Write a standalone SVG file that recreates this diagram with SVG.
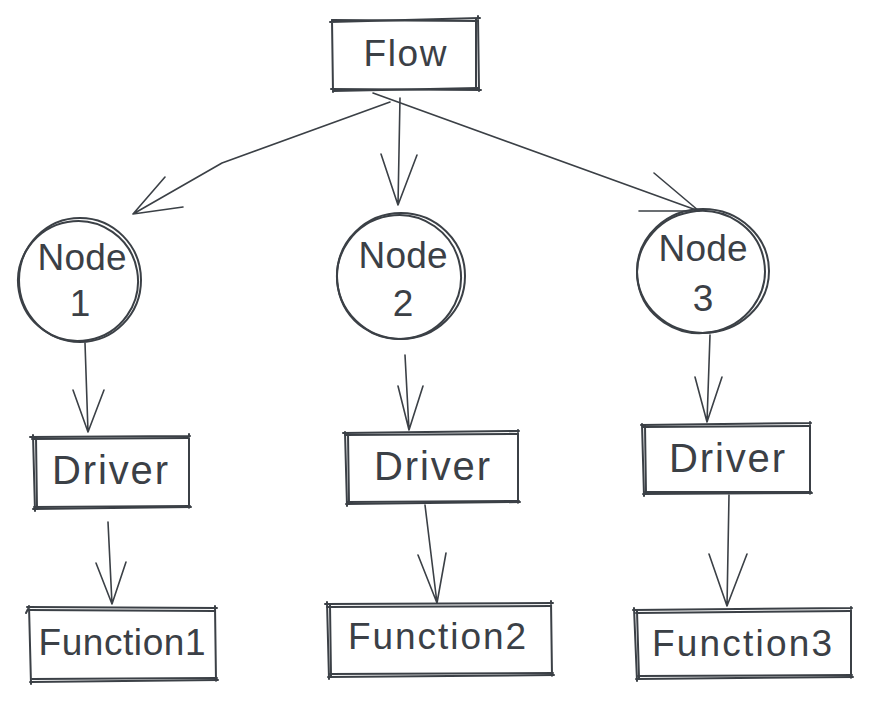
<svg xmlns="http://www.w3.org/2000/svg" width="871" height="701" viewBox="0 0 871 701">
<style>
.s{fill:none;stroke:#3b4046;stroke-width:2;stroke-linecap:round;stroke-linejoin:round}
.a{fill:none;stroke:#3b4046;stroke-width:1.6;stroke-linecap:round;stroke-linejoin:round}
.t{font-family:"Liberation Sans",Arial,sans-serif;font-size:37px;fill:#3b4046;text-anchor:middle;dominant-baseline:central}
.d{font-size:40px}
</style>
<rect width="871" height="701" fill="#ffffff"/>
<g id="connectors">
<path class="a" d="M390,102 L222,163 L133,214 M165,177 L133,214 L183,207"/>
<path class="a" d="M400,98 L398,205 M381,154 L398,205 L417,155"/>
<path class="a" d="M373,93 L699,211 M654,173 L699,211 L639,211"/>
<path class="a" d="M85,343 L88,432 M73,390 L88,432 L104,390"/>
<path class="a" d="M405,355 L409,430 M398,386 L409,430 L423,386"/>
<path class="a" d="M710,335 L707,422 M695,377 L707,422 L722,377"/>
<path class="a" d="M108,522 L112,604 M96,563 L112,604 L126,562"/>
<path class="a" d="M425,505 L437,603 M418,555 L437,603 L446,553"/>
<path class="a" d="M729,495 L727,606 M709,554 L727,606 L747,554"/>
</g>
<g id="flow">
<path class="s" d="M330,22 L480,18 M478,16 L479,91 M481,90 L331,89 M333,92 L332,20"/>
<path class="s" d="M332,20 L477,21 M476,19 L476,89 M478,88 L333,91" stroke-width="1.2"/>
<text class="t" x="405" y="53" textLength="83">Flow</text>
</g>
<g id="node1">
<ellipse class="s" cx="80" cy="280" rx="61" ry="62"/>
<ellipse class="s" cx="78" cy="281" rx="60" ry="60" stroke-width="1.2" transform="rotate(-10 78 281)"/>
<text class="t" x="82" y="257" textLength="89">Node</text>
<text class="t" x="80" y="303">1</text>
</g>
<g id="node2">
<ellipse class="s" cx="401" cy="276" rx="64" ry="63"/>
<ellipse class="s" cx="399" cy="277" rx="62" ry="62" stroke-width="1.2" transform="rotate(-10 399 277)"/>
<text class="t" x="403" y="255" textLength="89">Node</text>
<text class="t" x="403" y="303">2</text>
</g>
<g id="node3">
<ellipse class="s" cx="703" cy="271" rx="66" ry="62"/>
<ellipse class="s" cx="701" cy="272" rx="64" ry="61" stroke-width="1.2" transform="rotate(-10 701 272)"/>
<text class="t" x="703" y="248" textLength="89">Node</text>
<text class="t" x="703" y="298">3</text>
</g>
<g id="driver1">
<path class="s" d="M30,437 L190,436 M189,434 L189,508 M191,507 L33,509 M35,511 L33,435"/>
<path class="s" d="M32,439 L188,438 M190,506 L34,507 M37,509 L36,437" stroke-width="1.2"/>
<text class="t d" x="110" y="470" textLength="116">Driver</text>
</g>
<g id="driver2">
<path class="s" d="M343,433 L519,431 M518,430 L518,503 M520,502 L346,504 M347,506 L345,432"/>
<path class="s" d="M345,435 L517,434 M519,501 L347,502 M349,504 L348,433" stroke-width="1.2"/>
<text class="t d" x="432" y="466" textLength="116">Driver</text>
</g>
<g id="driver3">
<path class="s" d="M641,425 L811,423 M810,422 L810,494 M812,493 L643,494 M644,496 L642,424"/>
<path class="s" d="M643,427 L809,426 M811,492 L645,492 M646,494 L645,425" stroke-width="1.2"/>
<text class="t d" x="727" y="458" textLength="116">Driver</text>
</g>
<g id="function1">
<path class="s" d="M27,607 L217,608 M215,606 L216,681 M218,680 L30,682 M31,684 L29,606"/>
<path class="s" d="M29,610 L215,611 M217,678 L32,679 M26,613 L28,609" stroke-width="1.2"/>
<text class="t" x="122" y="642" textLength="167">Function1</text>
</g>
<g id="function2">
<path class="s" d="M325,604 L553,603 M551,601 L552,676 M554,675 L328,677 M329,679 L327,602"/>
<path class="s" d="M327,607 L551,606 M553,673 L330,674 M331,676 L330,605" stroke-width="1.2"/>
<text class="t" x="437" y="636" textLength="178">Function2</text>
</g>
<g id="function3">
<path class="s" d="M633,610 L852,608 M851,607 L851,678 M853,677 L636,679 M637,681 L634,608"/>
<path class="s" d="M636,613 L850,611 M852,675 L638,676 M639,678 L637,611" stroke-width="1.2"/>
<text class="t" x="742" y="643" textLength="180">Function3</text>
</g>
</svg>
